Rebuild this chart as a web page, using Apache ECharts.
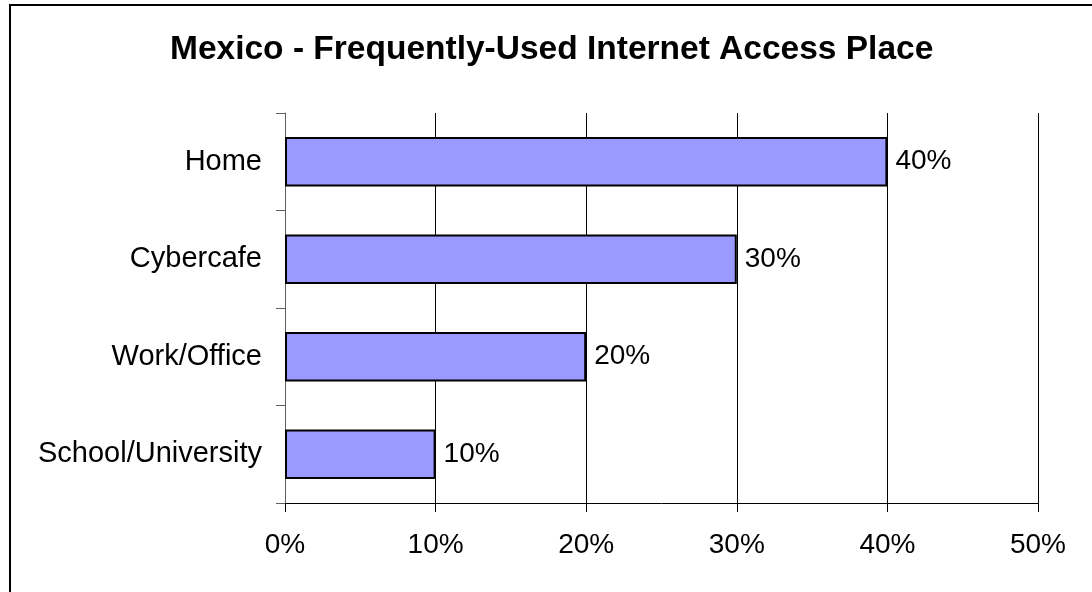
<!DOCTYPE html>
<html>
<head>
<meta charset="utf-8">
<script src="https://cdn.jsdelivr.net/npm/echarts@6/dist/echarts.min.js"></script>
<style>
html,body{margin:0;padding:0;background:#fff;}
#chart{width:1092px;height:592px;}
</style>
</head>
<body>
<div id="chart"></div>
<script>
const titleText = 'Mexico - Frequently-Used Internet Access Place';
const categories = ['School/University', 'Work/Office', 'Cybercafe', 'Home'];
const values = [10, 20, 30, 40];
const xTicks = [0, 10, 20, 30, 40, 50];

const chart = echarts.init(document.getElementById('chart'));
chart.setOption({
  animation: false,
  backgroundColor: '#ffffff',
  graphic: [{
    type: 'rect',
    shape: {x: 10, y: 5, width: 1200, height: 800},
    style: {fill: 'none', stroke: '#000', lineWidth: 2},
    silent: true
  }],
  title: {
    text: titleText,
    left: 165,
    top: 28,
    textStyle: {fontFamily: 'Liberation Sans, Arial', fontWeight: 'bold', fontSize: 33.5, color: '#000'}
  },
  grid: {left: 285, right: 54, top: 113, bottom: 89, containLabel: false},
  xAxis: {
    type: 'value',
    min: xTicks[0],
    max: xTicks[xTicks.length - 1],
    interval: 10,
    axisLine: {show: true, lineStyle: {color: '#000', width: 1}},
    axisTick: {show: true, length: 9, lineStyle: {color: '#000'}},
    splitLine: {show: true, lineStyle: {color: '#000', width: 1}},
    axisLabel: {
      formatter: v => v + '%',
      fontFamily: 'Liberation Sans, Arial',
      fontSize: 28,
      color: '#000',
      margin: 28
    }
  },
  yAxis: {
    type: 'category',
    data: categories,
    axisLine: {show: true, lineStyle: {color: '#606060', width: 1}},
    axisTick: {show: true, length: 9, lineStyle: {color: '#606060'}},
    axisLabel: {
      fontFamily: 'Liberation Sans, Arial',
      fontSize: 29,
      color: '#000',
      margin: 23
    }
  },
  series: [{
    type: 'bar',
    data: values,
    barWidth: '51%',
    itemStyle: {color: '#9999FF', borderColor: '#000', borderWidth: 2},
    label: {
      show: true,
      position: 'right',
      distance: 8,
      formatter: p => p.value + '%',
      fontFamily: 'Liberation Sans, Arial',
      fontSize: 28,
      color: '#000'
    }
  }]
});
</script>
</body>
</html>
